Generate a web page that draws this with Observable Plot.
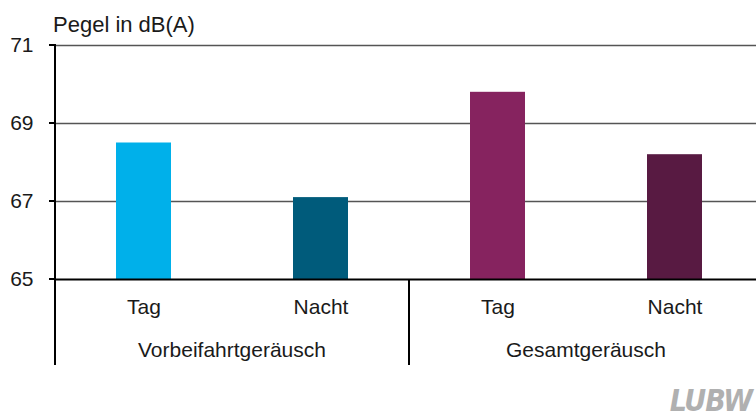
<!DOCTYPE html>
<html>
<head>
<meta charset="utf-8">
<script src="https://cdn.jsdelivr.net/npm/d3@7"></script>
<script src="https://cdn.jsdelivr.net/npm/@observablehq/plot@0.6"></script>
<style>
  html, body { margin: 0; padding: 0; background: #fff; }
  #wrap { position: relative; width: 756px; height: 419px; overflow: hidden; }
  #title { position: absolute; left: 53px; top: 12px; font: 22px "Liberation Sans", Arial, sans-serif; color: #1a1a1a; white-space: nowrap; }
  svg { display: block; }
</style>
</head>
<body>
<div id="wrap">
  <div id="title">Pegel in dB(A)</div>
</div>
<script>
const categories = ["Tag", "Nacht", "Tag", "Nacht"];
const groups = ["Vorbeifahrtgeräusch", "Vorbeifahrtgeräusch", "Gesamtgeräusch", "Gesamtgeräusch"];
const values = [68.5, 67.1, 69.8, 68.2];
const colors = ["#00b0ea", "#005b7b", "#86235f", "#581a42"];
const yTicks = [65, 67, 69, 71];
const gridTicks = [67, 69, 71];
const yBase = 65;
const logoText = "LUBW";

const data = categories.map((c, i) => ({
  key: groups[i] + "|" + c,
  cat: c,
  group: groups[i],
  value: values[i],
  color: colors[i]
}));
const keys = data.map(d => d.key);
const groupNames = Array.from(new Set(groups));

const svgNS = "http://www.w3.org/2000/svg";
function el(name, attrs, text) {
  const e = document.createElementNS(svgNS, name);
  for (const k in attrs) e.setAttribute(k, attrs[k]);
  if (text != null) e.textContent = text;
  return e;
}

// Decorations: y-axis line, ticks, group dividers, group labels, logo
function decorations(index, scales, values, dimensions) {
  const {x, y} = scales;
  const bw = x.bandwidth ? x.bandwidth() : 0;
  const step = x.step ? x.step() : (x(keys[1]) - x(keys[0]));
  const gap = step - bw;
  const g = el("g", {"aria-label": "decorations"});
  const yBottom = y(yBase) + 86;
  const xLeft = x(keys[0]) - gap / 2;
  // y axis line
  g.appendChild(el("line", {x1: xLeft, x2: xLeft, y1: y(yTicks[yTicks.length - 1]) - 1, y2: yBottom, stroke: "#000", "stroke-width": 2}));
  // y ticks
  for (const t of yTicks) {
    g.appendChild(el("line", {x1: xLeft - 6, x2: xLeft, y1: y(t), y2: y(t), stroke: "#000", "stroke-width": 2}));
  }
  // group dividers and labels
  groupNames.forEach((gn, gi) => {
    const ks = data.filter(d => d.group === gn).map(d => d.key);
    const left = x(ks[0]) - gap / 2;
    const right = x(ks[ks.length - 1]) + bw + gap / 2;
    if (gi > 0) {
      g.appendChild(el("line", {x1: left, x2: left, y1: y(yBase), y2: yBottom, stroke: "#000", "stroke-width": 2}));
    }
    g.appendChild(el("line", {x1: right, x2: right, y1: y(yBase), y2: yBottom, stroke: "#000", "stroke-width": 2}));
    g.appendChild(el("text", {
      x: (left + right) / 2, y: y(yBase) + 78,
      "text-anchor": "middle", fill: "#1a1a1a",
      "font-size": 21, "font-family": "Liberation Sans, Arial, sans-serif"
    }, gn));
  });
  // logo
  g.appendChild(el("text", {
    x: dimensions.width - 4, y: dimensions.height - 8,
    "text-anchor": "end",
    fill: "#b0b0b0", "font-size": 30, "font-weight": "bold", "font-style": "italic",
    "font-family": "DejaVu Sans, sans-serif", "font-stretch": "condensed",
    "letter-spacing": "-1"
  }, logoText));
  return g;
}

const chart = Plot.plot({
  width: 756,
  height: 419,
  marginTop: 45,
  marginBottom: 140,
  marginLeft: 55,
  marginRight: 0,
  style: {
    fontSize: "21px",
    fontFamily: "Liberation Sans, Arial, sans-serif",
    color: "#1a1a1a",
    background: "transparent",
    overflow: "visible"
  },
  x: {
    domain: keys,
    range: [55, 763],
    paddingInner: 0.69,
    paddingOuter: 0.345,
    tickFormat: k => k.split("|")[1],
    tickSize: 0,
    tickPadding: 20,
    label: null
  },
  y: {
    domain: [65, 71],
    ticks: yTicks,
    tickFormat: d => String(d),
    tickSize: 0,
    tickPadding: 22,
    label: null
  },
  color: {type: "identity"},
  marks: [
    Plot.ruleY(gridTicks, {stroke: "#555", strokeWidth: 1.6}),
    Plot.barY(data, {x: "key", y1: yBase, y2: "value", fill: "color"}),
    Plot.ruleY([yBase], {stroke: "#000", strokeWidth: 2}),
    decorations
  ]
});
document.getElementById("wrap").insertBefore(chart, document.getElementById("title"));
</script>
</body>
</html>
